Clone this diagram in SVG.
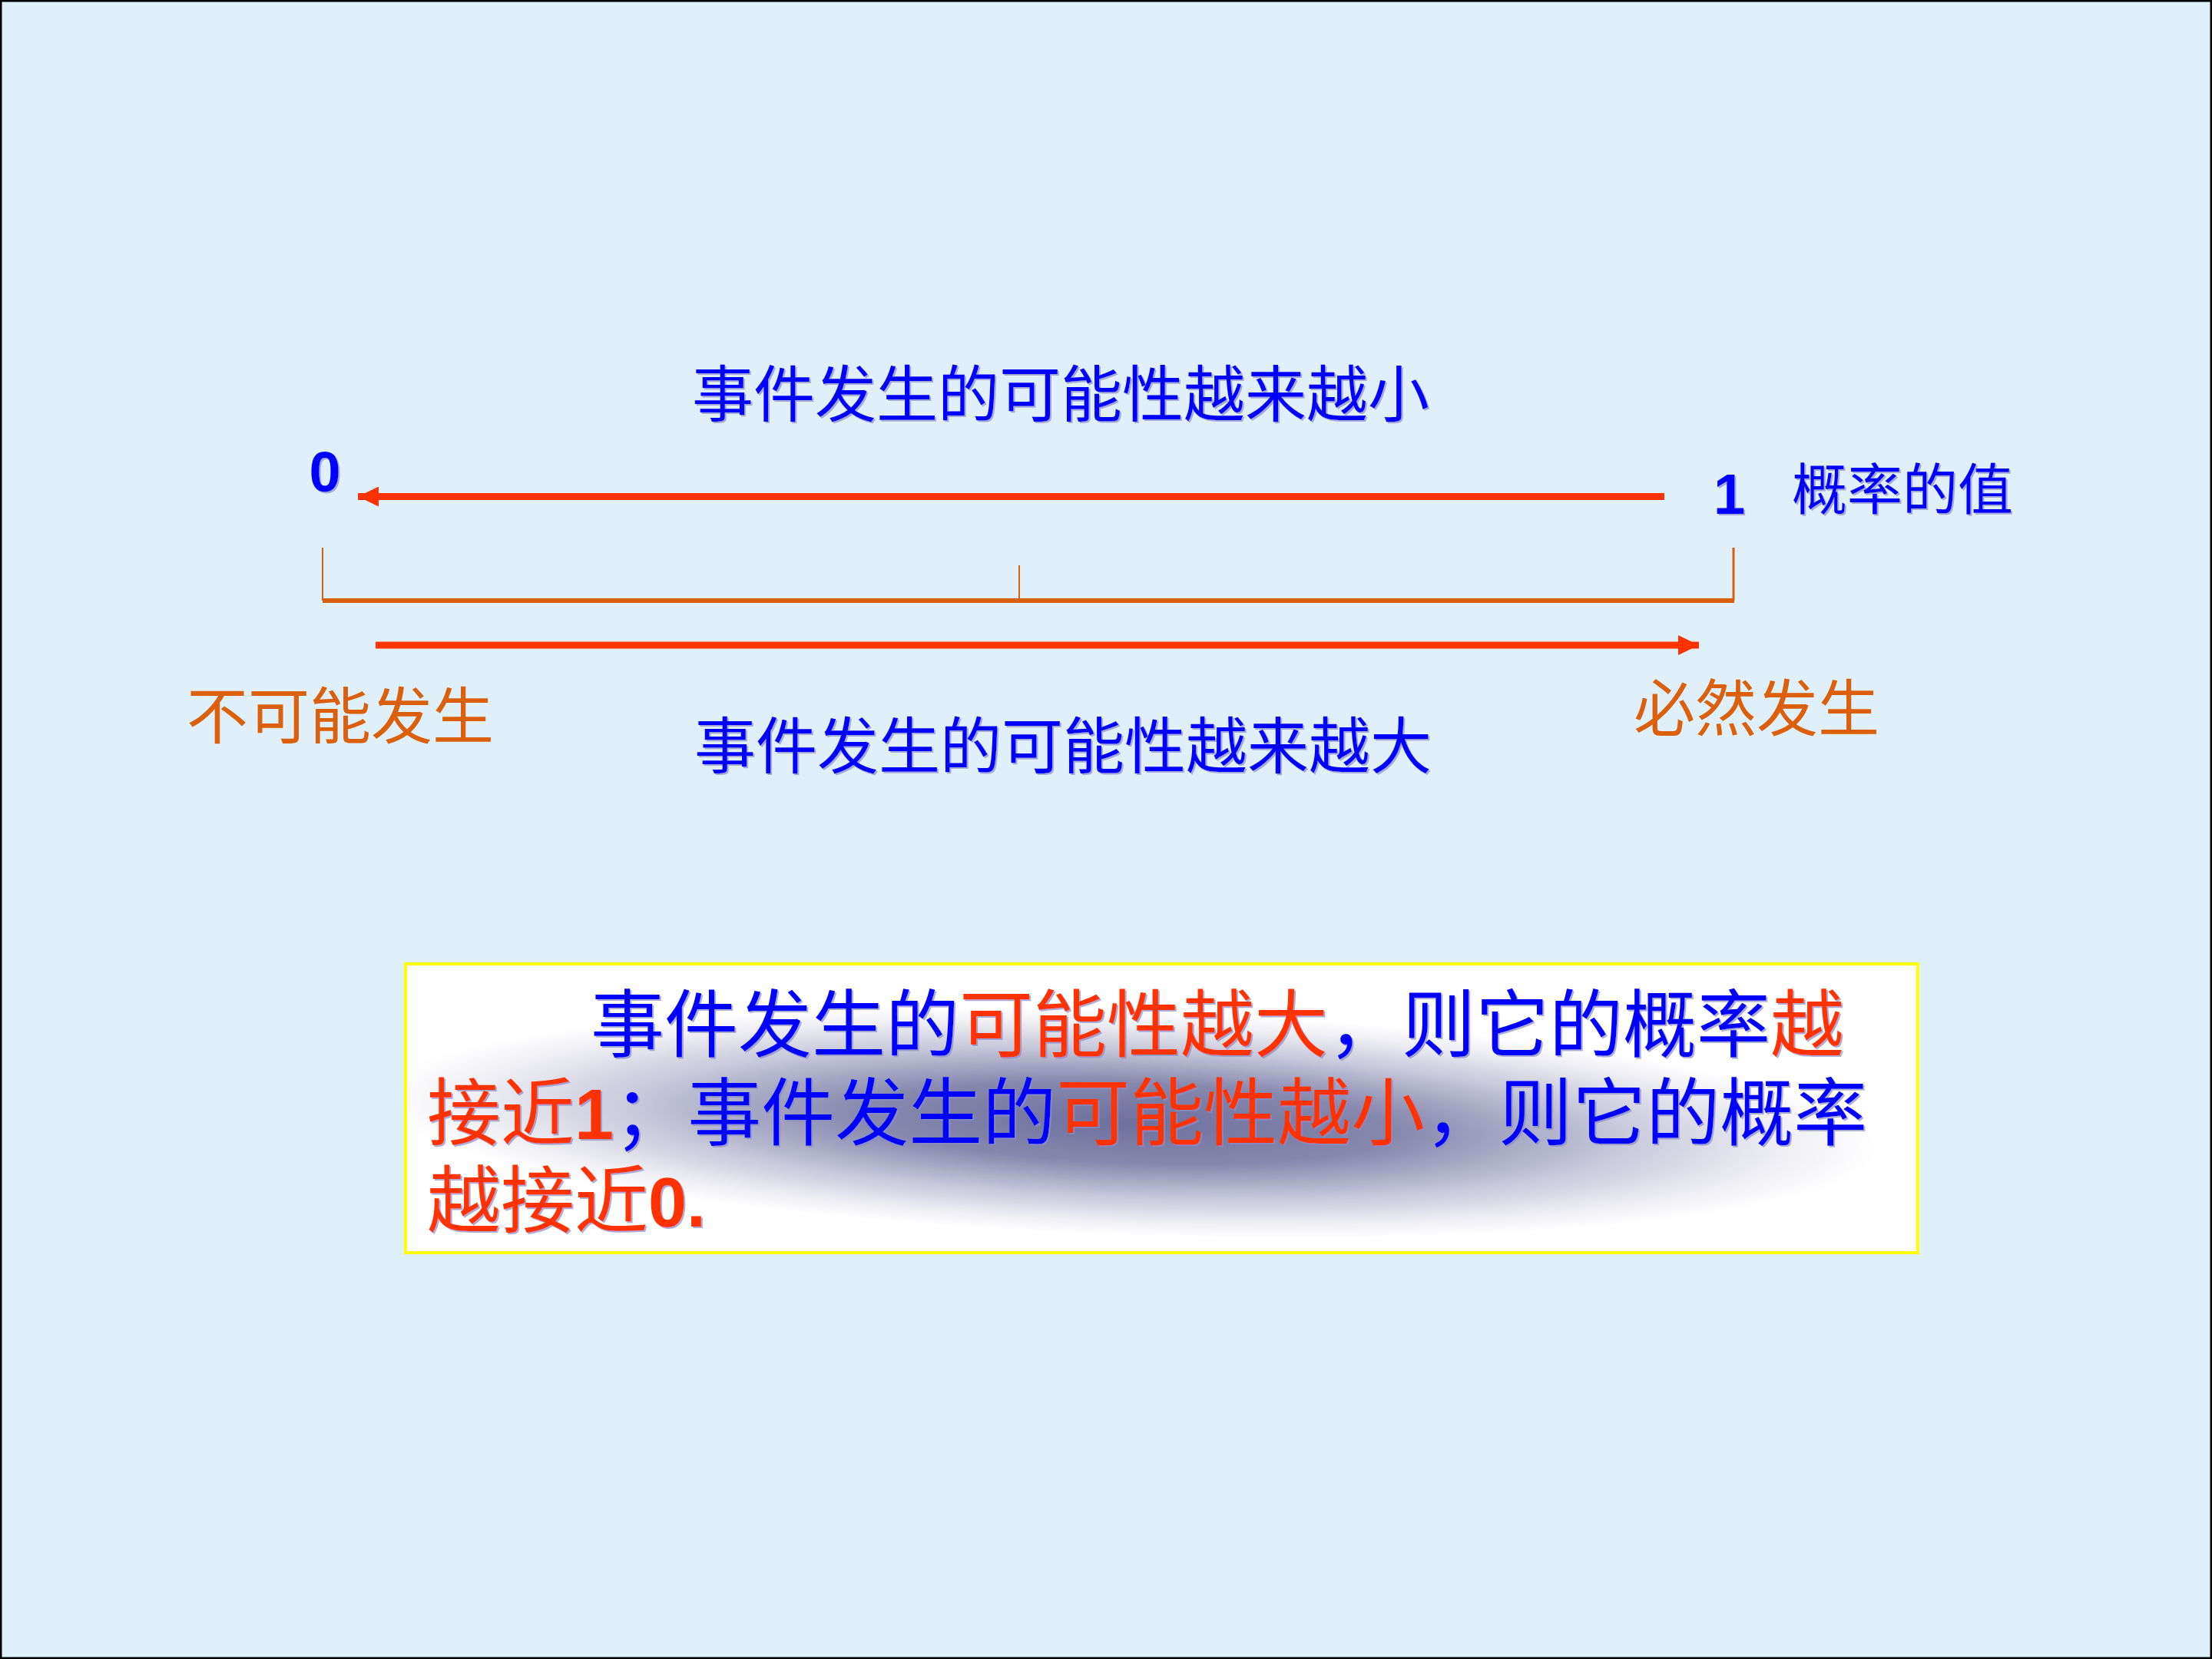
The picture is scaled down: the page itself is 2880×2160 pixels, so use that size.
<svg xmlns="http://www.w3.org/2000/svg" width="2880" height="2160" viewBox="0 0 2880 2160">
  <defs>
    <style>
      .cjk { font-family: "Noto Sans CJK SC", "Liberation Sans", sans-serif; }
      .num { font-family: "Liberation Sans", Arial, sans-serif; font-weight: bold; }
      .blue { fill: #0000FF; }
      .red { fill: #FF3300; }
      .orange { fill: #DC600C; }
      .arrow { stroke: #FF3300; stroke-width: 9; fill: none; }
      .bracket { stroke: #D9600E; fill: none; }
    </style>
    <filter id="shadow" x="-5%" y="-20%" width="110%" height="140%">
      <feDropShadow dx="2" dy="2" stdDeviation="0.6" flood-color="#8A8AC8" flood-opacity="0.7"/>
    </filter>
    <marker id="head" markerUnits="userSpaceOnUse" markerWidth="28" markerHeight="26" refX="27" refY="13" orient="auto">
      <path d="M0,0 L27,13 L0,26 Z" fill="#FF3300"/>
    </marker>
    <radialGradient id="glow" gradientUnits="userSpaceOnUse" cx="1470" cy="1462" r="980"
      gradientTransform="translate(1470 1462) rotate(2) scale(1 0.15) translate(-1470 -1462)">
      <stop offset="0" stop-color="#6E719D"/>
      <stop offset="0.35" stop-color="#8587AD"/>
      <stop offset="0.65" stop-color="#C6C7D9"/>
      <stop offset="0.88" stop-color="#F0F0F5"/>
      <stop offset="1" stop-color="#FFFFFF"/>
    </radialGradient>
  </defs>

  <rect x="0" y="0" width="2880" height="2160" fill="#DFF0FA" stroke="#000000" stroke-width="5"/>

  <g id="connectors">
    <line class="arrow" x1="2167" y1="646.5" x2="466" y2="646.5" marker-end="url(#head)"/>
    <line class="arrow" x1="489" y1="840" x2="2212" y2="840" marker-end="url(#head)"/>
  </g>

  <g id="scale-bracket">
    <line class="bracket" x1="420" y1="713" x2="420" y2="782" stroke-width="2"/>
    <line class="bracket" x1="1327" y1="736" x2="1327" y2="782" stroke-width="2"/>
    <line class="bracket" x1="2257" y1="713" x2="2257" y2="782" stroke-width="3"/>
    <line class="bracket" x1="420" y1="782" x2="2258" y2="782" stroke-width="6"/>
  </g>

  <g id="label-top" filter="url(#shadow)">
    <text class="cjk blue" x="901" y="542" font-size="80">事件发生的可能性越来越小</text>
  </g>
  <g id="label-zero" filter="url(#shadow)">
    <text class="num blue" x="423" y="640" font-size="74" text-anchor="middle">0</text>
  </g>
  <g id="label-one" filter="url(#shadow)">
    <text class="num blue" x="2231" y="669" font-size="74">1</text>
  </g>
  <g id="label-prob" filter="url(#shadow)">
    <text class="cjk blue" x="2333" y="663" font-size="72">概率的值</text>
  </g>
  <g id="label-impossible">
    <text class="cjk orange" x="243" y="961" font-size="80">不可能发生</text>
  </g>
  <g id="label-bottom" filter="url(#shadow)">
    <text class="cjk blue" x="904" y="1000" font-size="80">事件发生的可能性越来越大</text>
  </g>
  <g id="label-certain">
    <text class="cjk orange" x="2127" y="951" font-size="80">必然发生</text>
  </g>

  <g id="summary-box">
    <rect x="528" y="1255" width="1969" height="376" fill="#FFFFFF"/>
    <rect x="528" y="1255" width="1969" height="376" fill="url(#glow)" stroke="#FFFF00" stroke-width="4"/>
    <g filter="url(#shadow)">
      <text class="cjk" x="769" y="1368" font-size="96"><tspan class="blue">事件发生的</tspan><tspan class="red">可能性越大</tspan><tspan class="blue">，则它的概率</tspan><tspan class="red">越</tspan></text>
      <text class="cjk" x="556" y="1483" font-size="96"><tspan class="red">接近</tspan><tspan class="red num" font-size="92">1</tspan><tspan class="blue">；事件发生的</tspan><tspan class="red">可能性越小</tspan><tspan class="blue">，则它的概率</tspan></text>
      <text class="cjk" x="556" y="1597" font-size="96"><tspan class="red">越接近</tspan><tspan class="red num" font-size="90">0.</tspan></text>
    </g>
  </g>
</svg>
